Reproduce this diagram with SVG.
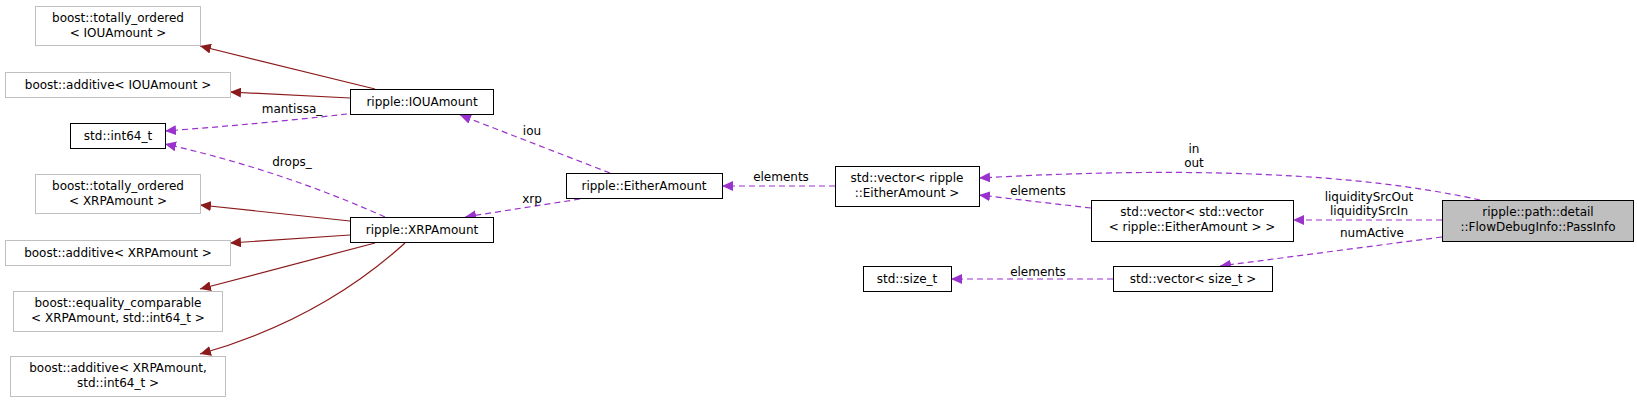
<svg xmlns="http://www.w3.org/2000/svg" width="1637" height="403" viewBox="0 0 1637 403">
<style>
text{font-family:"DejaVu Sans",sans-serif;font-size:12px;fill:#000;text-anchor:middle}
.g rect{fill:#fff;stroke:#bfbfbf;stroke-width:1}
.b rect{fill:#fff;stroke:#000;stroke-width:1}
.inh{fill:none;stroke:#8b1a1a;stroke-width:1.2;marker-end:url(#ar)}
.use{fill:none;stroke:#9a32cd;stroke-width:1.2;stroke-dasharray:6,4;marker-end:url(#ap)}
</style>
<defs>
<marker id="ar" markerUnits="userSpaceOnUse" markerWidth="12" markerHeight="10" refX="11" refY="5" orient="auto"><path d="M0,0L11,5L0,10z" fill="#8b1a1a"/></marker>
<marker id="ap" markerUnits="userSpaceOnUse" markerWidth="12" markerHeight="10" refX="11" refY="5" orient="auto"><path d="M0,0L11,5L0,10z" fill="#9a32cd"/></marker>
</defs>
<rect width="1637" height="403" fill="#fff"/>
<g id="connectors">
<path class="inh" d="M375,89 L200,46"/>
<path class="inh" d="M350,98 L230,92"/>
<path class="inh" d="M350,221 L200,205"/>
<path class="inh" d="M350,235 L230,243"/>
<path class="inh" d="M375,243 L200,289"/>
<path class="inh" d="M405,243 Q320,320 200,354"/>
<path class="use" d="M347,114 Q260,124 165,131"/>
<path class="use" d="M385,217 Q280,170 165,144"/>
<path class="use" d="M610,173 L460,115"/>
<path class="use" d="M580,199 L465,217"/>
<path class="use" d="M835,186 L722,186"/>
<path class="use" d="M1091,208 L979,195"/>
<path class="use" d="M1480,200 Q1300,160 979,178"/>
<path class="use" d="M1442,220 L1293,220"/>
<path class="use" d="M1442,237 L1220,266"/>
<path class="use" d="M1113,279 L951,279"/>
<text x="292" y="113">mantissa_</text>
<text x="292" y="166">drops_</text>
<text x="532" y="135">iou</text>
<text x="532" y="203">xrp</text>
<text x="781" y="181">elements</text>
<text x="1038" y="195">elements</text>
<text x="1038" y="276">elements</text>
<text x="1194" y="153">in</text>
<text x="1194" y="167">out</text>
<text x="1369" y="201">liquiditySrcOut</text>
<text x="1369" y="215">liquiditySrcIn</text>
<text x="1372" y="237">numActive</text>
</g>
<g id="n_to_iou" class="g"><rect x="35.5" y="6.5" width="165" height="39"/><text x="118" y="22">boost::totally_ordered</text><text x="118" y="37">&lt; IOUAmount &gt;</text></g>
<g id="n_add_iou" class="g"><rect x="5.5" y="72.5" width="225" height="25"/><text x="118" y="89">boost::additive&lt; IOUAmount &gt;</text></g>
<g id="n_int64" class="b"><rect x="70.5" y="123.5" width="95" height="25"/><text x="118" y="140">std::int64_t</text></g>
<g id="n_to_xrp" class="g"><rect x="35.5" y="174.5" width="165" height="39"/><text x="118" y="190">boost::totally_ordered</text><text x="118" y="205">&lt; XRPAmount &gt;</text></g>
<g id="n_add_xrp" class="g"><rect x="5.5" y="240.5" width="225" height="25"/><text x="118" y="257">boost::additive&lt; XRPAmount &gt;</text></g>
<g id="n_eq" class="g"><rect x="13.5" y="291.5" width="209" height="40"/><text x="118" y="307">boost::equality_comparable</text><text x="118" y="322">&lt; XRPAmount, std::int64_t &gt;</text></g>
<g id="n_add2" class="g"><rect x="10.5" y="356.5" width="215" height="40"/><text x="118" y="372">boost::additive&lt; XRPAmount,</text><text x="118" y="387">std::int64_t &gt;</text></g>
<g id="n_iou" class="b"><rect x="350.5" y="89.5" width="143" height="25"/><text x="422" y="106">ripple::IOUAmount</text></g>
<g id="n_xrp" class="b"><rect x="350.5" y="217.5" width="143" height="25"/><text x="422" y="234">ripple::XRPAmount</text></g>
<g id="n_either" class="b"><rect x="566.5" y="173.5" width="156" height="25"/><text x="644" y="190">ripple::EitherAmount</text></g>
<g id="n_vec" class="b"><rect x="835.5" y="166.5" width="144" height="40"/><text x="907" y="182">std::vector&lt; ripple</text><text x="907" y="197">::EitherAmount &gt;</text></g>
<g id="n_vecvec" class="b"><rect x="1091.5" y="200.5" width="202" height="41"/><text x="1192" y="216">std::vector&lt; std::vector</text><text x="1192" y="231">&lt; ripple::EitherAmount &gt; &gt;</text></g>
<g id="n_pass"><rect x="1442.5" y="200.5" width="191" height="41" fill="#bfbfbf" stroke="#000"/><text x="1538" y="216">ripple::path::detail</text><text x="1538" y="231">::FlowDebugInfo::PassInfo</text></g>
<g id="n_size" class="b"><rect x="863.5" y="266.5" width="88" height="25"/><text x="907" y="283">std::size_t</text></g>
<g id="n_vecsize" class="b"><rect x="1113.5" y="266.5" width="159" height="25"/><text x="1193" y="283">std::vector&lt; size_t &gt;</text></g>
</svg>
